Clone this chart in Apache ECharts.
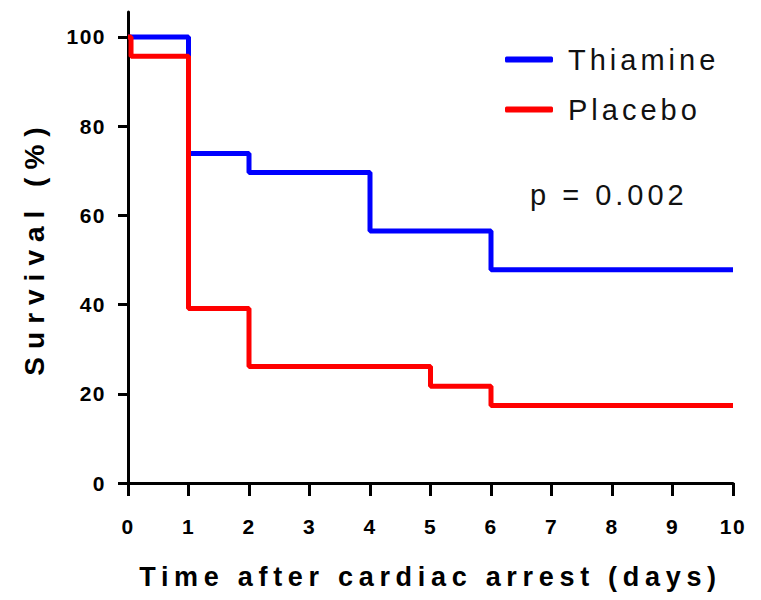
<!DOCTYPE html>
<html>
<head>
<meta charset="utf-8">
<script src="https://cdn.jsdelivr.net/npm/echarts@6/dist/echarts.min.js"></script>
<style>
  html, body { margin: 0; padding: 0; background: #fff; }
  #main { width: 761px; height: 600px; }
  /* spaced-out lettering like the original figure */
  #main text[style*="21px"] { letter-spacing: 1.5px; }
  #main text[style*="27px"] { letter-spacing: 5.7px; }
  #main text[style*="28px"] { letter-spacing: 8px; }
  #main text[style*="29px"] { letter-spacing: 4px; }
</style>
</head>
<body>
<div id="main"></div>
<script>
// Kaplan-Meier survival (%), step points
const thiamineDays = [0, 1, 2, 4, 6, 10];
const thiamineSurv = [100, 73.9, 69.6, 56.5, 47.8, 47.8];
const placeboDays = [0, 0.05, 1, 2, 5, 6, 10];
const placeboSurv = [100, 95.7, 39.1, 26.1, 21.7, 17.4, 17.4];
const yTicks = [0, 20, 40, 60, 80, 100];
const seriesNames = ['Thiamine', 'Placebo'];
const pText = 'p = 0.002';

const font = 'Liberation Sans, Arial, sans-serif';

function pairs(xs, ys) {
  return xs.map((x, i) => [x, ys[i]]);
}

const myChart = echarts.init(document.getElementById('main'), null, { renderer: 'svg' });

const option = {
  animation: false,
  grid: { left: 128, right: 28, top: 12, bottom: 117, outerBoundsMode: 'none' },
  legend: {
    data: seriesNames,
    orient: 'vertical',
    left: 500,
    top: 40,
    itemWidth: 48,
    itemHeight: 6,
    itemGap: 21,
    icon: 'roundRect',
    textStyle: { fontFamily: font, fontSize: 29, color: '#111', padding: [0, 0, 0, 10] }
  },
  graphic: [{
    type: 'text',
    left: 530,
    top: 180,
    style: { text: pText, font: '29px ' + font, fill: '#111' }
  }],
  xAxis: {
    type: 'value',
    min: 0,
    max: 10,
    interval: 1,
    name: 'Time after cardiac arrest (days)',
    nameLocation: 'middle',
    nameGap: 80,
    nameTextStyle: { fontFamily: font, fontWeight: 'bold', fontSize: 27, color: '#000' },
    axisLine: { lineStyle: { color: '#000', width: 3 } },
    axisTick: { show: true, length: 13, lineStyle: { color: '#000', width: 3 } },
    axisLabel: { fontFamily: font, fontWeight: 'bold', fontSize: 21, color: '#000', margin: 33 },
    splitLine: { show: false }
  },
  yAxis: {
    type: 'value',
    min: 0,
    max: 105.6,
    name: 'Survival (%)',
    nameLocation: 'middle',
    nameGap: 80,
    nameTextStyle: { fontFamily: font, fontWeight: 'bold', fontSize: 28, color: '#000' },
    axisLine: { show: true, lineStyle: { color: '#000', width: 3 } },
    axisTick: { show: true, length: 10, customValues: yTicks, lineStyle: { color: '#000', width: 3 } },
    axisLabel: { fontFamily: font, fontWeight: 'bold', fontSize: 21, color: '#000', margin: 22, customValues: yTicks },
    splitLine: { show: false }
  },
  series: [
    {
      name: seriesNames[0],
      type: 'line',
      step: 'end',
      showSymbol: false,
      color: '#0000ff',
      lineStyle: { width: 5, color: '#0000ff' },
      data: pairs(thiamineDays, thiamineSurv)
    },
    {
      name: seriesNames[1],
      type: 'line',
      step: 'end',
      showSymbol: false,
      color: '#ff0000',
      lineStyle: { width: 5, color: '#ff0000' },
      data: pairs(placeboDays, placeboSurv)
    }
  ]
};

myChart.setOption(option);
</script>
</body>
</html>
